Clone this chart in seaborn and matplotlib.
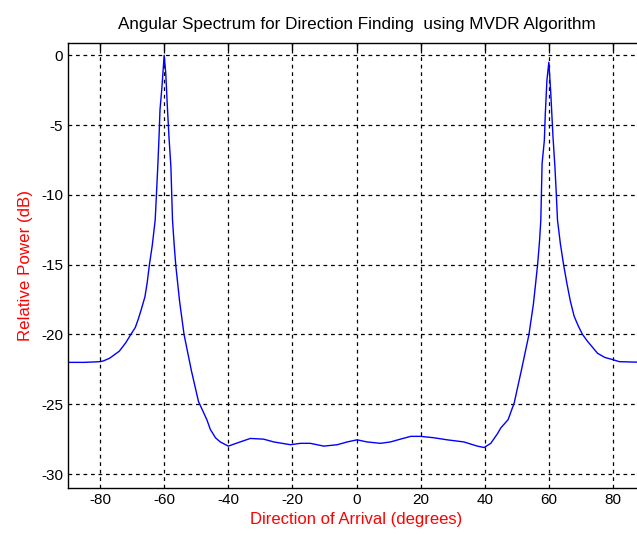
import matplotlib
matplotlib.use("Agg")
import matplotlib.pyplot as plt
import seaborn as sns
import pandas as pd

# Direction of arrival (degrees) and relative power (dB)
doa_deg = [-90, -85, -80, -79, -77, -74, -72, -70.4, -69, -68, -67, -66, -65.3,
           -64.6, -63.7, -62.8, -62.0, -61.6, -61.3, -60.7, -60.0, -59.5, -59.0,
           -58.5, -57.9, -57.4, -56.9, -56.4, -55.2, -53.8, -51.5, -49.3, -46.7,
           -45.6, -44.0, -42.5, -40.0, -36.3, -33.1, -29.0, -25.8, -20.6, -17.5,
           -14.4, -10.2, -6.0, -2.9, 0.2, 3.3, 7.5, 10.6, 13.7, 16.9, 20.0, 24.1,
           28.3, 33.5, 37.7, 39.8, 41.9, 44.0, 45.0, 47.3, 49.2, 51.5, 53.8, 55.2,
           56.5, 57.1, 57.5, 57.9, 58.6, 58.9, 59.4, 60.0, 60.6, 61.3, 61.9, 62.3,
           62.7, 63.6, 64.6, 65.6, 66.7, 67.9, 69.2, 70.5, 72.1, 75.2, 77.5, 79.9,
           82.0, 90]
power_db = [-22.0, -22.0, -21.95, -21.9, -21.7, -21.2, -20.6, -20.0, -19.5, -18.85,
            -18.1, -17.3, -16.3, -15.0, -13.6, -11.8, -8.0, -5.85, -3.9, -2.3, 0.0,
            -1.3, -3.7, -5.85, -8.0, -11.8, -13.5, -15.0, -17.6, -20.0, -22.6,
            -24.8, -26.1, -26.8, -27.4, -27.7, -28.0, -27.7, -27.45, -27.5, -27.7,
            -27.9, -27.8, -27.8, -28.0, -27.9, -27.7, -27.55, -27.7, -27.8, -27.7,
            -27.5, -27.3, -27.3, -27.4, -27.55, -27.7, -28.0, -28.1, -27.8, -27.1,
            -26.7, -26.1, -24.9, -22.5, -20.0, -17.8, -15.0, -13.3, -11.8, -7.75,
            -6.1, -4.2, -1.8, -0.5, -2.7, -5.85, -8.0, -9.8, -11.8, -13.5, -15.0,
            -16.3, -17.6, -18.7, -19.4, -20.0, -20.5, -21.35, -21.65, -21.8, -21.95,
            -22.0]

x_ticks = [-80, -60, -40, -20, 0, 20, 40, 60, 80]
y_ticks = [-30, -25, -20, -15, -10, -5, 0]

sns.set_style("white")
plt.rcParams['font.family'] = ['Liberation Sans', 'DejaVu Sans']
plt.rcParams['axes.unicode_minus'] = False

fig = plt.figure(figsize=(6.37, 5.34), dpi=100)
ax = fig.add_axes([68 / 637, 46 / 534, 577 / 637, 445.3 / 534])

df = pd.DataFrame({"doa": doa_deg, "p": power_db})
sns.lineplot(data=df, x="doa", y="p", ax=ax, color=(0, 0, 1), linewidth=1.0,
             sort=False, estimator=None)

ax.set_xlim(-90, 90)
ax.set_ylim(-31, 0.9)
ax.set_xticks(x_ticks)
ax.set_yticks(y_ticks)
ax.tick_params(direction='in', length=5, width=1, colors='black', labelsize=11,
               top=True, right=True, labelcolor='black')
ax.grid(True, color='black', linestyle=(0, (3, 3)), linewidth=0.9)
for s in ax.spines.values():
    s.set_color('black')
    s.set_linewidth(1.0)

ax.set_title("Angular Spectrum for Direction Finding  using MVDR Algorithm",
             fontsize=12.3, color='black', pad=10)
ax.set_xlabel("Direction of Arrival (degrees)", color='red', fontsize=12, labelpad=4)
ax.set_ylabel("Relative Power (dB)", color='red', fontsize=12.2, labelpad=6)

fig.savefig("out.png", dpi=100, facecolor='white')
